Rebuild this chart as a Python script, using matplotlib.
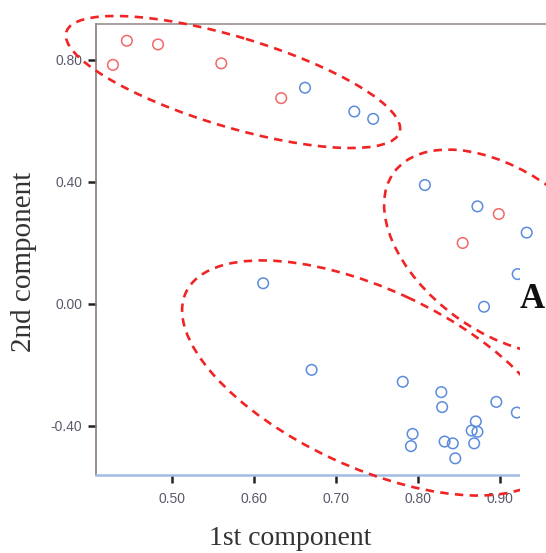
import matplotlib
matplotlib.use("Agg")
import matplotlib.pyplot as plt
from matplotlib.patches import Ellipse, Rectangle
from matplotlib.transforms import Affine2D

# ---- data ----
red_x = [0.428, 0.445, 0.483, 0.560, 0.633, 0.898, 0.854]
red_y = [0.784, 0.863, 0.851, 0.789, 0.675, 0.295, 0.200]

blue_x = [0.662, 0.722, 0.745, 0.808, 0.872, 0.932, 0.921, 0.880, 0.611, 0.670,
          0.781, 0.828, 0.829, 0.895, 0.920, 0.793, 0.791, 0.832, 0.842, 0.845,
          0.870, 0.865, 0.872, 0.868]
blue_y = [0.709, 0.631, 0.607, 0.390, 0.320, 0.234, 0.098, -0.009, 0.068, -0.216,
          -0.255, -0.289, -0.338, -0.321, -0.356, -0.426, -0.466, -0.451, -0.457, -0.506,
          -0.385, -0.415, -0.419, -0.457]

x_ticks = [0.50, 0.60, 0.70, 0.80, 0.90]
y_ticks = [-0.40, 0.00, 0.40, 0.80]
x_label = "1st component"
y_label = "2nd component"
panel_letter = "A"

W, H = 546, 553
fig = plt.figure(figsize=(W / 100, H / 100), dpi=100)
fig.patch.set_facecolor("white")

ax = fig.add_axes([96 / W, 1 - 475 / H, 1 - 96 / W, (475 - 24) / H])
ax.set_xlim(0.4074, 0.9555)
ax.set_ylim(-0.5607, 0.918)

ax.scatter(red_x, red_y, s=58, facecolors="none", edgecolors="#f26868", linewidths=1.1, zorder=3)
ax.scatter(blue_x, blue_y, s=58, facecolors="none", edgecolors="#5b8cdc", linewidths=1.1, zorder=3)

ax.set_xticks(x_ticks)
ax.set_yticks(y_ticks)
ax.set_xticklabels([f"{v:.2f}" for v in x_ticks])
ax.set_yticklabels([f"{v:.2f}" for v in y_ticks])
for lab in ax.get_xticklabels() + ax.get_yticklabels():
    lab.set_fontfamily("Liberation Sans")
    lab.set_fontsize(10)
    lab.set_color("#5a5a6c")
ax.tick_params(axis="both", direction="out", length=6, width=1.8, color="#222222")
ax.tick_params(axis="y", pad=4)
ax.tick_params(axis="x", pad=6)

ax.spines["right"].set_visible(False)
ax.spines["left"].set_color("#8c7b7b")
ax.spines["left"].set_linewidth(1.2)
ax.spines["top"].set_color("#9a8f8f")
ax.spines["top"].set_linewidth(1.2)
ax.spines["bottom"].set_color("#a3bce2")
ax.spines["bottom"].set_linewidth(1.8)

fig.text(290 / W, 1 - 545 / H, x_label, ha="center", va="baseline",
         fontfamily="Liberation Serif", fontsize=20, color="#333333")
fig.text(24 / W, 1 - 262 / H, y_label, ha="center", va="center", rotation=90,
         fontfamily="Liberation Serif", fontsize=21, color="#333333")

# pixel-space transform (origin top-left, y down)
pix = Affine2D().scale(1 / W, -1 / H).translate(0, 1) + fig.transFigure

ellipses = [((233, 82), 348, 90, 16.7),
            ((503, 252), 270, 160, 36.0),
            ((370, 378), 406, 178, 24.9)]
for (c, w, h, ang) in ellipses:
    e = Ellipse(c, w, h, angle=ang, transform=pix, fill=False, edgecolor="#f02424",
                linewidth=1.9, linestyle=(0, (3.2, 2.4)), clip_on=False, zorder=6)
    ax.add_artist(e)

# neighbouring panel covering the right edge
rect = Rectangle((520, 255), 40, 310, transform=pix, facecolor="white",
                 edgecolor="none", zorder=10)
fig.add_artist(rect)
fig.text(520 / W, 1 - 308 / H, panel_letter, ha="left", va="baseline",
         fontfamily="Liberation Serif", fontsize=25, fontweight="bold",
         color="#111111", zorder=11)

fig.savefig("out.png", dpi=100)
